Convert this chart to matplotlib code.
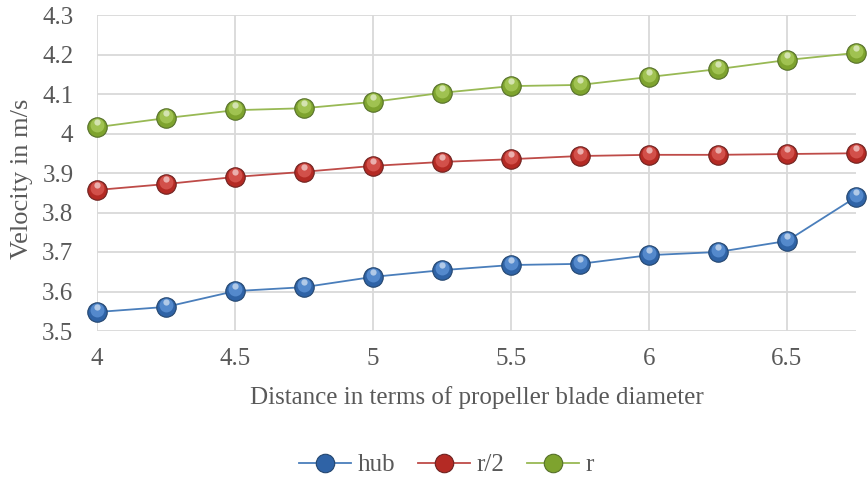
import matplotlib
matplotlib.use("Agg")
import matplotlib.pyplot as plt
from matplotlib.transforms import offset_copy

x = [4, 4.25, 4.5, 4.75, 5, 5.25, 5.5, 5.75, 6, 6.25, 6.5, 6.75]
hub = [3.548, 3.561, 3.601, 3.611, 3.637, 3.654, 3.667, 3.670, 3.692, 3.700, 3.728, 3.839]
r_half = [3.857, 3.872, 3.890, 3.903, 3.918, 3.928, 3.935, 3.943, 3.946, 3.946, 3.948, 3.950]
r_full = [4.016, 4.039, 4.059, 4.064, 4.080, 4.103, 4.120, 4.123, 4.143, 4.163, 4.186, 4.204]

series = [
    ("hub", hub, "#4A7EBB", "#2F63A6", "#5E93D6", "#24466F"),
    ("r/2", r_half, "#BE4B48", "#B42A24", "#DA5A54", "#6E2220"),
    ("r", r_full, "#98B954", "#7EA32E", "#A9CB5A", "#56702A"),
]

plt.rcParams['font.family'] = ['Liberation Serif', 'DejaVu Serif']
fig = plt.figure(figsize=(8.67, 4.8), dpi=100)
ax = fig.add_axes([97/867, 1 - 331/480, (856 - 97)/867, (331 - 15)/480])

handles = []
for name, vals, lc, dark, light, ec in series:
    h, = ax.plot(x, vals, color=lc, lw=1.3, marker='o', ms=14, mfc=dark, mec=ec,
                 mew=0.8, label=name, zorder=3, clip_on=False)
    tr = offset_copy(ax.transData, fig=fig, x=0, y=1.5, units='points')
    ax.plot(x, vals, ls='none', marker='o', ms=10, mfc=light, mec='none',
            alpha=0.8, zorder=4, clip_on=False, transform=tr)
    tr2 = offset_copy(ax.transData, fig=fig, x=0, y=3.5, units='points')
    ax.plot(x, vals, ls='none', marker='o', ms=4.5, mfc='white', mec='none',
            alpha=0.55, zorder=5, clip_on=False, transform=tr2)
    handles.append(h)

ax.set_xlim(4, 6.75)
ax.set_ylim(3.5, 4.3)
ax.set_xticks([4, 4.5, 5, 5.5, 6, 6.5])
ax.set_xticklabels(['4', '4.5', '5', '5.5', '6', '6.5'])
ax.set_yticks([3.5, 3.6, 3.7, 3.8, 3.9, 4.0, 4.1, 4.2, 4.3])
ax.set_yticklabels(['3.5', '3.6', '3.7', '3.8', '3.9', '4', '4.1', '4.2', '4.3'])
ax.grid(True, color='#D9D9D9', lw=1.3)
ax.set_axisbelow(True)
for s in ax.spines.values():
    s.set_visible(False)
ax.tick_params(axis='y', length=0, labelsize=18, colors='#595959', pad=17)
ax.tick_params(axis='x', length=0, labelsize=18, colors='#595959', pad=12)
ax.set_xlabel('Distance in terms of propeller blade diameter', fontsize=18,
              color='#595959', labelpad=12)
ax.set_ylabel('Velocity in m/s', fontsize=19, color='#595959', labelpad=8)
ax.xaxis.set_label_coords(0.5, -(398 - 331) / 316, transform=ax.transAxes)
ax.yaxis.set_label_coords(-(97 - 22) / 759, 0.5 - (179 - 173) / 316, transform=ax.transAxes)
ax.xaxis.label.set_va('center')
ax.yaxis.label.set_va('center')

fig.legend(handles=handles, loc='center', bbox_to_anchor=(0.515, 1 - 465/480),
           ncol=3, frameon=False, fontsize=18, labelcolor='#595959',
           handlelength=2.1, columnspacing=0.9, handletextpad=0.25,
           markerscale=0.95)

fig.savefig('out.png', dpi=100)
